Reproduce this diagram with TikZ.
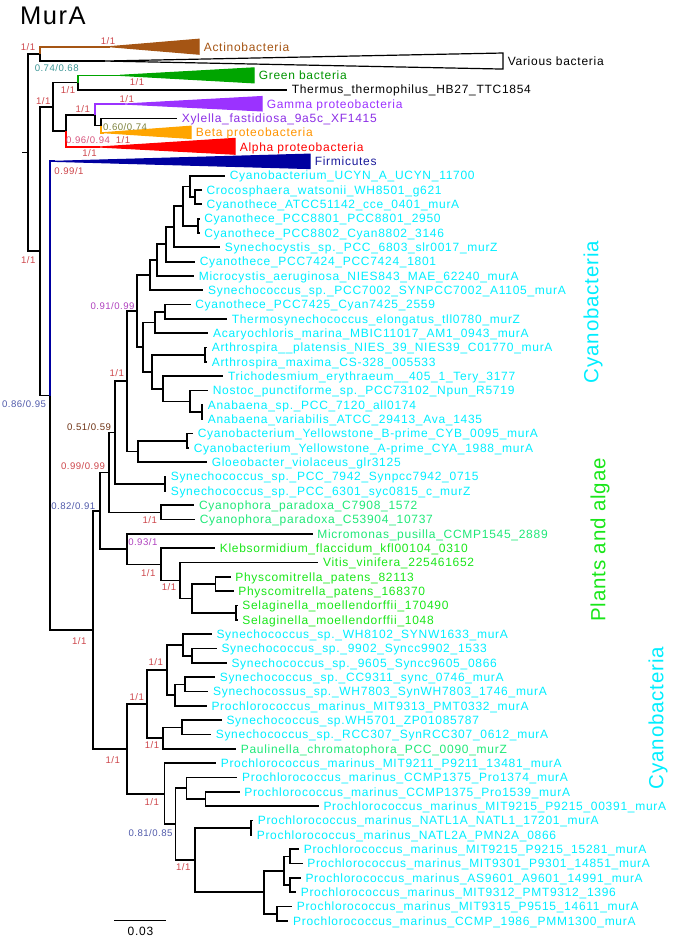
\documentclass[tikz,border=0pt]{standalone}
\usepackage{fontspec}
\setmainfont{Liberation Sans}
\newfontfamily\leaffam{Liberation Sans}[LetterSpace=6]
\newfontfamily\supfam{Liberation Sans}[LetterSpace=5]
\newfontfamily\sidefam{Liberation Sans}[LetterSpace=4]
\newfontfamily\titlefam{Liberation Sans}[LetterSpace=6]
\usetikzlibrary{positioning}

\definecolor{cyanleaf}{RGB}{0,238,255}
\definecolor{mintleaf}{RGB}{30,232,120}
\definecolor{plantleaf}{RGB}{25,230,25}
\definecolor{supred}{RGB}{205,70,75}
\definecolor{supteal}{RGB}{60,150,150}
\definecolor{supolive}{RGB}{125,130,60}
\definecolor{suppink}{RGB}{215,85,125}
\definecolor{supmag}{RGB}{175,65,190}
\definecolor{supblue}{RGB}{80,90,170}
\definecolor{supbrown}{RGB}{110,50,20}
\definecolor{actino}{RGB}{165,85,20}
\definecolor{greenbac}{RGB}{0,165,0}
\definecolor{gammabac}{RGB}{155,50,255}
\definecolor{betabac}{RGB}{255,165,0}
\definecolor{alphabac}{RGB}{255,0,0}
\definecolor{firmi}{RGB}{0,0,160}

\newcommand{\leaffont}{\leaffam\fontsize{12}{14}\selectfont}
\newcommand{\supfont}{\supfam\fontsize{9.6}{11}\selectfont}
\newcommand{\sidefont}{\sidefam\fontsize{20.5}{23}\selectfont}
\newcommand{\titlefont}{\titlefam\fontsize{25.5}{28}\selectfont}

\begin{document}
\begin{tikzpicture}[
    x=1pt, y=-1pt,
    br/.style={line width=1.7pt},
    leaf/.style={anchor=west, inner xsep=4.6pt, inner ysep=0pt,
        text height=8.6pt, text depth=0pt, font=\leaffont, text=cyanleaf},
    mint/.style={leaf, text=mintleaf},
    plant/.style={leaf, text=plantleaf},
    sup/.style={inner sep=0pt, text height=6.9pt, text depth=0pt,
        font=\supfont, text=supred},
    clade/.style={draw, line width=1.2pt, line join=miter},
    side/.style={rotate=90, inner sep=0pt, font=\sidefont}
]
\useasboundingbox (0,0) rectangle (685,938);

\node[anchor=base west, inner sep=0pt, font=\titlefont] (title) at (20,24.3) {MurA};

\begin{scope}[y=-14.33pt, yshift=-46.7pt]

% collapsed clades at the top
\coordinate (root) at (28,7.38);
\coordinate (stem) at (22,7.38);
\coordinate (actvar) at (40,0.5);
\coordinate (rest) at (40,14.27);
\coordinate (proteo) at (53,4.19);
\coordinate (grnthe) at (78,2.5);
\coordinate (abg) at (66,5.875);
\coordinate (gxb) at (95,4.75);
\coordinate (xylbeta) at (101,5.5);
\coordinate (firmcya) at (50,24.35);

\coordinate (actapex) at (110,0);
\coordinate (varapex) at (105,1);
\coordinate (grnapex) at (120,2);
\coordinate (gamapex) at (125,4);
\coordinate (betapex) at (104,6);
\coordinate (alpapex) at (100,7);
\coordinate (firapex) at (55,8);

\draw[clade, draw=actino, fill=actino] (actapex) -- (199,-0.52) -- (199,0.52) -- cycle;
\draw[clade, fill=white] (varapex) -- (503,0.44) -- (503,1.56) -- cycle;
\draw[clade, draw=greenbac, fill=greenbac] (grnapex) -- (254,1.48) -- (254,2.52) -- cycle;
\draw[clade, draw=gammabac, fill=gammabac] (gamapex) -- (262,3.48) -- (262,4.48) -- cycle;
\draw[clade, draw=betabac, fill=betabac] (betapex) -- (191,5.55) -- (191,6.4) -- cycle;
\draw[clade, draw=alphabac, fill=alphabac] (alpapex) -- (235,6.4) -- (235,7.5) -- cycle;
\draw[clade, draw=firmi, fill=firmi] (firapex) -- (310,7.5) -- (310,8.5) -- cycle;

\node[leaf, text=actino] (actino) at (199,0) {Actinobacteria};
\node[leaf, text=black] (various) at (503,1) {Various bacteria};
\node[leaf, text=greenbac!90!black] (green) at (254,2) {Green bacteria};
\node[leaf, text=black] (thermus) at (287,3) {Thermus\_thermophilus\_HB27\_TTC1854};
\node[leaf, text=gammabac] (gamma) at (262,4) {Gamma proteobacteria};
\node[leaf, text=gammabac!90!black] (xylella) at (177,5) {Xylella\_fastidiosa\_9a5c\_XF1415};
\node[leaf, text=betabac!90!red] (beta) at (191,6) {Beta proteobacteria};
\node[leaf, text=alphabac] (alpha) at (235,7) {Alpha proteobacteria};
\node[leaf, text=firmi!80!gray] (firmicutes) at (310,8) {Firmicutes};

\draw[br] (stem) -- (root);
\draw[br] (root) |- (actvar);
\draw[br] (root) |- (rest);
\draw[br, actino] (actvar) |- (actapex);
\draw[br] (actvar) |- (varapex);
\draw[br] (rest) |- (proteo);
\draw[br] (rest) |- (firmcya);
\draw[br] (proteo) |- (grnthe);
\draw[br] (proteo) |- (abg);
\draw[br, greenbac] (grnthe) |- (grnapex);
\draw[br] (grnthe) |- (thermus.west);
\draw[br] (abg) |- (gxb);
\draw[br, alphabac] (abg) |- (alpapex);
\draw[br, gammabac] (gxb) |- (gamapex);
\draw[br] (gxb) |- (xylbeta);
\draw[br] (xylbeta) |- (xylella.west);
\draw[br, betabac] (xylbeta) |- (betapex);
\draw[br, firmi] (firmcya) |- (firapex);

% cyanobacteria, first block
\node[leaf] (ucyn) at (225,9) {Cyanobacterium\_UCYN\_A\_UCYN\_11700};
\node[leaf] (croco) at (201.7,10) {Crocosphaera\_watsonii\_WH8501\_g621};
\node[leaf] (atcc) at (201.7,11) {Cyanothece\_ATCC51142\_cce\_0401\_murA};
\node[leaf] (pcc8801) at (199.5,12) {Cyanothece\_PCC8801\_PCC8801\_2950};
\node[leaf] (pcc8802) at (199.5,13) {Cyanothece\_PCC8802\_Cyan8802\_3146};
\node[leaf] (sycy) at (220,14) {Synechocystis\_sp.\_PCC\_6803\_slr0017\_murZ};
\node[leaf] (pcc7424) at (195,15) {Cyanothece\_PCC7424\_PCC7424\_1801};
\node[leaf] (micro) at (194,16) {Microcystis\_aeruginosa\_NIES843\_MAE\_62240\_murA};
\node[leaf] (syn7002) at (203.3,17) {Synechococcus\_sp.\_PCC7002\_SYNPCC7002\_A1105\_murA};
\node[leaf] (pcc7425) at (190.5,18) {Cyanothece\_PCC7425\_Cyan7425\_2559};
\node[leaf] (thermo) at (227,19) {Thermosynechococcus\_elongatus\_tll0780\_murZ};
\node[leaf] (acaryo) at (208.3,20) {Acaryochloris\_marina\_MBIC11017\_AM1\_0943\_murA};
\node[leaf] (arthpl) at (207,21) {Arthrospira\_\_platensis\_NIES\_39\_NIES39\_C01770\_murA};
\node[leaf] (arthmx) at (207,22) {Arthrospira\_maxima\_CS-328\_005533};
\node[leaf] (tricho) at (223.3,23) {Trichodesmium\_erythraeum\_\_405\_1\_Tery\_3177};
\node[leaf] (nostoc) at (208,24) {Nostoc\_punctiforme\_sp.\_PCC73102\_Npun\_R5719};
\node[leaf] (anasp) at (203,25) {Anabaena\_sp.\_PCC\_7120\_all0174};
\node[leaf] (anavar) at (203,26) {Anabaena\_variabilis\_ATCC\_29413\_Ava\_1435};
\node[leaf] (yellb) at (193,27) {Cyanobacterium\_Yellowstone\_B-prime\_CYB\_0095\_murA};
\node[leaf] (yella) at (189,28) {Cyanobacterium\_Yellowstone\_A-prime\_CYA\_1988\_murA};
\node[leaf] (gloeo) at (207,29) {Gloeobacter\_violaceus\_glr3125};
\node[leaf] (syn7942) at (166,30) {Synechococcus\_sp.\_PCC\_7942\_Synpcc7942\_0715};
\node[leaf] (syn6301) at (166,31) {Synechococcus\_sp.\_PCC\_6301\_syc0815\_c\_murZ};

% plants and algae
\node[mint] (cpar1) at (194.3,32) {Cyanophora\_paradoxa\_C7908\_1572};
\node[mint] (cpar2) at (195,33) {Cyanophora\_paradoxa\_C53904\_10737};
\node[mint] (micromon) at (312.5,34) {Micromonas\_pusilla\_CCMP1545\_2889};
\node[plant] (klebs) at (215,35) {Klebsormidium\_flaccidum\_kfl00104\_0310};
\node[plant] (vitis) at (318.3,36) {Vitis\_vinifera\_225461652};
\node[plant] (physc1) at (230.5,37) {Physcomitrella\_patens\_82113};
\node[plant] (physc2) at (233.5,38) {Physcomitrella\_patens\_168370};
\node[plant] (selag1) at (237.5,39) {Selaginella\_moellendorffii\_170490};
\node[plant] (selag2) at (237.5,40) {Selaginella\_moellendorffii\_1048};

% cyanobacteria, second block
\node[leaf] (wh8102) at (211.7,41) {Synechococcus\_sp.\_WH8102\_SYNW1633\_murA};
\node[leaf] (cc9902) at (216.7,42) {Synechococcus\_sp.\_9902\_Syncc9902\_1533};
\node[leaf] (cc9605) at (226.7,43) {Synechococcus\_sp.\_9605\_Syncc9605\_0866};
\node[leaf] (cc9311) at (215,44) {Synechococcus\_sp.\_CC9311\_sync\_0746\_murA};
\node[leaf] (wh7803) at (208.3,45) {Synechocossus\_sp.\_WH7803\_SynWH7803\_1746\_murA};
\node[leaf] (mit9313) at (206.7,46) {Prochlorococcus\_marinus\_MIT9313\_PMT0332\_murA};
\node[leaf] (wh5701) at (221.7,47) {Synechococcus\_sp.WH5701\_ZP01085787};
\node[leaf] (rcc307) at (211,48) {Synechococcus\_sp.\_RCC307\_SynRCC307\_0612\_murA};
\node[mint] (paulin) at (236,49) {Paulinella\_chromatophora\_PCC\_0090\_murZ};
\node[leaf] (mit9211) at (216,50) {Prochlorococcus\_marinus\_MIT9211\_P9211\_13481\_murA};
\node[leaf] (pro1374) at (237.3,51) {Prochlorococcus\_marinus\_CCMP1375\_Pro1374\_murA};
\node[leaf] (pro1539) at (239.5,52) {Prochlorococcus\_marinus\_CCMP1375\_Pro1539\_murA};
\node[leaf] (p00391) at (318.7,53) {Prochlorococcus\_marinus\_MIT9215\_P9215\_00391\_murA};
\node[leaf] (natl1a) at (253,54) {Prochlorococcus\_marinus\_NATL1A\_NATL1\_17201\_murA};
\node[leaf] (natl2a) at (252,55) {Prochlorococcus\_marinus\_NATL2A\_PMN2A\_0866};
\node[leaf] (p15281) at (299,56) {Prochlorococcus\_marinus\_MIT9215\_P9215\_15281\_murA};
\node[leaf] (mit9301) at (302.5,57) {Prochlorococcus\_marinus\_MIT9301\_P9301\_14851\_murA};
\node[leaf] (as9601) at (300.7,58) {Prochlorococcus\_marinus\_AS9601\_A9601\_14991\_murA};
\node[leaf] (mit9312) at (296,59) {Prochlorococcus\_marinus\_MIT9312\_PMT9312\_1396};
\node[leaf] (mit9315) at (292,60) {Prochlorococcus\_marinus\_MIT9315\_P9515\_14611\_murA};
\node[leaf] (ccmp1986) at (288.3,61) {Prochlorococcus\_marinus\_CCMP\_1986\_PMM1300\_murA};

% inner nodes
\coordinate (crocatcc) at (195,10.5);
\coordinate (ucyngrp) at (190,9.75);
\coordinate (pccpair) at (198.3,12.5);
\coordinate (cyanoth) at (183.3,11.125);
\coordinate (sycygrp) at (174,12.5625);
\coordinate (p7424grp) at (166,13.78);
\coordinate (microgrp) at (157.3,14.89);
\coordinate (unicell) at (150,15.95);
\coordinate (p7425pair) at (165,18.5);
\coordinate (acarygrp) at (155,19.25);
\coordinate (arthpair) at (205,21.5);
\coordinate (anapair) at (201.7,25.5);
\coordinate (nostocgrp) at (190,24.75);
\coordinate (trichogrp) at (163.3,23.875);
\coordinate (filament) at (151.7,22.69);
\coordinate (thermgrp) at (143.3,20.97);
\coordinate (coreA) at (136.7,18.46);
\coordinate (yellpair) at (186.7,27.5);
\coordinate (gloeogrp) at (138.3,28.25);
\coordinate (coreB) at (126.7,23.35);
\coordinate (elongpair) at (165,30.5);
\coordinate (coreC) at (115,26.93);
\coordinate (cyanophora) at (161,32.5);
\coordinate (coreD) at (109,29.71);
\coordinate (physcpair) at (215.5,37.5);
\coordinate (selagpair) at (236,39.5);
\coordinate (landpl) at (191.7,38.5);
\coordinate (vitisgrp) at (180,37.25);
\coordinate (klebsgrp) at (161,36.125);
\coordinate (greenpl) at (127,35.06);
\coordinate (plastid) at (100,32.39);
\coordinate (ccpair) at (192,42.5);
\coordinate (wh8102grp) at (183.3,41.75);
\coordinate (cc9311pair) at (185,44.5);
\coordinate (mit9313grp) at (175,45.25);
\coordinate (marineA) at (166.7,43.5);
\coordinate (wh5701pair) at (181.7,47.5);
\coordinate (paulingrp) at (163.3,48.25);
\coordinate (marineB) at (147,45.875);
\coordinate (pro1539pair) at (205.5,52.5);
\coordinate (pro1374grp) at (186.5,51.75);
\coordinate (natlpair) at (251,54.5);
\coordinate (hlA) at (290,56.5);
\coordinate (hlB) at (290,58.5);
\coordinate (hlAB) at (284,57.5);
\coordinate (hlC) at (277,60.5);
\coordinate (hlall) at (264,59);
\coordinate (llnatl) at (195,56.75);
\coordinate (prochlA) at (175.5,54.25);
\coordinate (prochl) at (164.5,52.125);
\coordinate (marine) at (127,49);
\coordinate (cyanoall) at (93,40.69);

% branches
\draw[br] (firmcya) |- (cyanoall);
\draw[br] (cyanoall) |- (plastid);
\draw[br] (cyanoall) |- (marine);
\draw[br] (plastid) |- (coreD);
\draw[br] (plastid) |- (greenpl);
\draw[br] (coreD) |- (coreC);
\draw[br] (coreD) |- (cyanophora);
\draw[br] (cyanophora) |- (cpar1.west);
\draw[br] (cyanophora) |- (cpar2.west);
\draw[br] (coreC) |- (coreB);
\draw[br] (coreC) |- (elongpair);
\draw[br] (elongpair) |- (syn7942.west);
\draw[br] (elongpair) |- (syn6301.west);
\draw[br] (coreB) |- (coreA);
\draw[br] (coreB) |- (gloeogrp);
\draw[br] (gloeogrp) |- (yellpair);
\draw[br] (gloeogrp) |- (gloeo.west);
\draw[br] (yellpair) |- (yellb.west);
\draw[br] (yellpair) |- (yella.west);
\draw[br] (coreA) |- (unicell);
\draw[br] (coreA) |- (thermgrp);
\draw[br] (unicell) |- (microgrp);
\draw[br] (unicell) |- (syn7002.west);
\draw[br] (microgrp) |- (p7424grp);
\draw[br] (microgrp) |- (micro.west);
\draw[br] (p7424grp) |- (sycygrp);
\draw[br] (p7424grp) |- (pcc7424.west);
\draw[br] (sycygrp) |- (cyanoth);
\draw[br] (sycygrp) |- (sycy.west);
\draw[br] (cyanoth) |- (ucyngrp);
\draw[br] (cyanoth) |- (pccpair);
\draw[br] (ucyngrp) |- (ucyn.west);
\draw[br] (ucyngrp) |- (crocatcc);
\draw[br] (crocatcc) |- (croco.west);
\draw[br] (crocatcc) |- (atcc.west);
\draw[br] (pccpair) |- (pcc8801.west);
\draw[br] (pccpair) |- (pcc8802.west);
\draw[br] (thermgrp) |- (acarygrp);
\draw[br] (thermgrp) |- (filament);
\draw[br] (acarygrp) |- (p7425pair);
\draw[br] (acarygrp) |- (acaryo.west);
\draw[br] (p7425pair) |- (pcc7425.west);
\draw[br] (p7425pair) |- (thermo.west);
\draw[br] (filament) |- (arthpair);
\draw[br] (filament) |- (trichogrp);
\draw[br] (arthpair) |- (arthpl.west);
\draw[br] (arthpair) |- (arthmx.west);
\draw[br] (trichogrp) |- (tricho.west);
\draw[br] (trichogrp) |- (nostocgrp);
\draw[br] (nostocgrp) |- (nostoc.west);
\draw[br] (nostocgrp) |- (anapair);
\draw[br] (anapair) |- (anasp.west);
\draw[br] (anapair) |- (anavar.west);
\draw[br] (greenpl) |- (micromon.west);
\draw[br] (greenpl) |- (klebsgrp);
\draw[br] (klebsgrp) |- (klebs.west);
\draw[br] (klebsgrp) |- (vitisgrp);
\draw[br] (vitisgrp) |- (vitis.west);
\draw[br] (vitisgrp) |- (landpl);
\draw[br] (landpl) |- (physcpair);
\draw[br] (landpl) |- (selagpair);
\draw[br] (physcpair) |- (physc1.west);
\draw[br] (physcpair) |- (physc2.west);
\draw[br] (selagpair) |- (selag1.west);
\draw[br] (selagpair) |- (selag2.west);
\draw[br] (marine) |- (marineB);
\draw[br] (marine) |- (prochl);
\draw[br] (marineB) |- (marineA);
\draw[br] (marineB) |- (paulingrp);
\draw[br] (marineA) |- (wh8102grp);
\draw[br] (marineA) |- (mit9313grp);
\draw[br] (wh8102grp) |- (wh8102.west);
\draw[br] (wh8102grp) |- (ccpair);
\draw[br] (ccpair) |- (cc9902.west);
\draw[br] (ccpair) |- (cc9605.west);
\draw[br] (mit9313grp) |- (cc9311pair);
\draw[br] (mit9313grp) |- (mit9313.west);
\draw[br] (cc9311pair) |- (cc9311.west);
\draw[br] (cc9311pair) |- (wh7803.west);
\draw[br] (paulingrp) |- (wh5701pair);
\draw[br] (paulingrp) |- (paulin.west);
\draw[br] (wh5701pair) |- (wh5701.west);
\draw[br] (wh5701pair) |- (rcc307.west);
\draw[br] (prochl) |- (mit9211.west);
\draw[br] (prochl) |- (prochlA);
\draw[br] (prochlA) |- (pro1374grp);
\draw[br] (prochlA) |- (llnatl);
\draw[br] (pro1374grp) |- (pro1374.west);
\draw[br] (pro1374grp) |- (pro1539pair);
\draw[br] (pro1539pair) |- (pro1539.west);
\draw[br] (pro1539pair) |- (p00391.west);
\draw[br] (llnatl) |- (natlpair);
\draw[br] (llnatl) |- (hlall);
\draw[br] (natlpair) |- (natl1a.west);
\draw[br] (natlpair) |- (natl2a.west);
\draw[br] (hlall) |- (hlAB);
\draw[br] (hlall) |- (hlC);
\draw[br] (hlAB) |- (hlA);
\draw[br] (hlAB) |- (hlB);
\draw[br] (hlA) |- (p15281.west);
\draw[br] (hlA) |- (mit9301.west);
\draw[br] (hlB) |- (as9601.west);
\draw[br] (hlB) |- (mit9312.west);
\draw[br] (hlC) |- (mit9315.west);
\draw[br] (hlC) |- (ccmp1986.west);
\end{scope}

% support values
\node[sup] (s1) at (28,47.2) {1/1};
\node[sup] (s2) at (108,40.8) {1/1};
\node[sup, text=supteal] (s3) at (56.7,68.5) {0.74/0.68};
\node[sup] (s4) at (137,82.5) {1/1};
\node[sup] (s5) at (68,90.2) {1/1};
\node[sup] (s6) at (43.3,100.8) {1/1};
\node[sup] (s7) at (126.7,99.5) {1/1};
\node[sup] (s8) at (82.7,109) {1/1};
\node[sup, text=supolive] (s9) at (125,126.7) {0.60/0.74};
\node[sup, text=suppink] (s10) at (88,140) {0.96/0.94};
\node[sup] (s11) at (123,140) {1/1};
\node[sup] (s12) at (89.5,153.3) {1/1};
\node[sup] (s13) at (69,171) {0.99/1};
\node[sup] (s14) at (28.3,260) {1/1};
\node[sup, text=supmag] (s15) at (112.5,305.8) {0.91/0.99};
\node[sup] (s16) at (116.7,373.3) {1/1};
\node[sup, text=supblue] (s17) at (24,404) {0.86/0.95};
\node[sup, text=supbrown] (s18) at (89,426.8) {0.51/0.59};
\node[sup] (s19) at (83,465.8) {0.99/0.99};
\node[sup, text=supblue] (s20) at (73.3,505.8) {0.82/0.91};
\node[sup] (s21) at (149.7,520.3) {1/1};
\node[sup, text=supmag] (s22) at (142.8,542.5) {0.93/1};
\node[sup] (s23) at (148.3,572.8) {1/1};
\node[sup] (s24) at (169,587.5) {1/1};
\node[sup] (s25) at (79.3,641.2) {1/1};
\node[sup] (s26) at (155.7,662.5) {1/1};
\node[sup] (s27) at (136.7,697) {1/1};
\node[sup] (s28) at (152,745.5) {1/1};
\node[sup] (s29) at (112.7,760) {1/1};
\node[sup] (s30) at (151.7,801.7) {1/1};
\node[sup, text=supblue] (s31) at (150.5,833) {0.81/0.85};
\node[sup] (s32) at (183.3,867.5) {1/1};

% group names
\node[side, text=cyanleaf] (cyanotop) at (593,312) {Cyanobacteria};
\node[side, text=plantleaf] (plants) at (600,540) {Plants and algae};
\node[side, text=cyanleaf] (cyanobot) at (658,718) {Cyanobacteria};

% scale bar
\coordinate (scaleL) at (114,920.7);
\coordinate (scaleR) at (165.7,920.7);
\draw[line width=1.4pt] (scaleL) -- (scaleR);
\node[anchor=base, inner sep=0pt, font=\leaffont] (scaletxt) at (140.5,935.3) {0.03};

\end{tikzpicture}
\end{document}
